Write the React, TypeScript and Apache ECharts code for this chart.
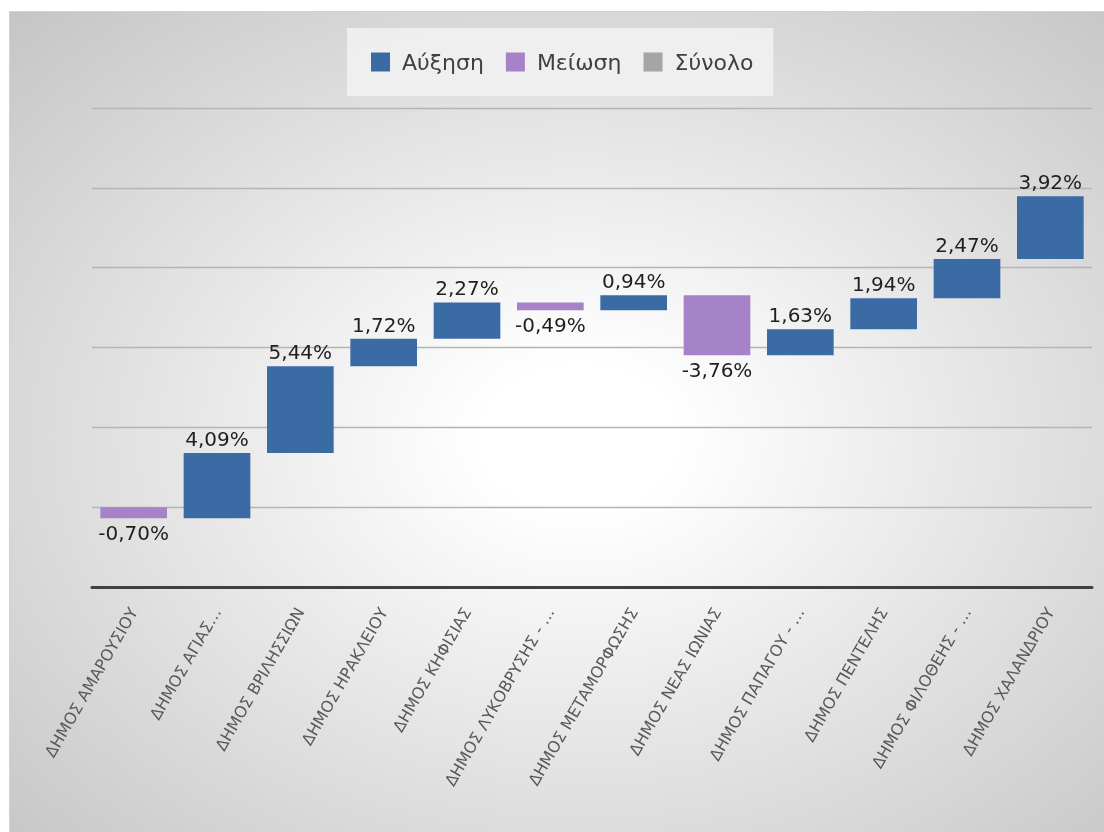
import React, { useEffect, useRef } from "react";
import * as echarts from "echarts";

const categories = [
  "ΔΗΜΟΣ ΑΜΑΡΟΥΣΙΟΥ",
  "ΔΗΜΟΣ ΑΓΙΑΣ…",
  "ΔΗΜΟΣ ΒΡΙΛΗΣΣΙΩΝ",
  "ΔΗΜΟΣ ΗΡΑΚΛΕΙΟΥ",
  "ΔΗΜΟΣ ΚΗΦΙΣΙΑΣ",
  "ΔΗΜΟΣ ΛΥΚΟΒΡΥΣΗΣ - …",
  "ΔΗΜΟΣ ΜΕΤΑΜΟΡΦΩΣΗΣ",
  "ΔΗΜΟΣ ΝΕΑΣ ΙΩΝΙΑΣ",
  "ΔΗΜΟΣ ΠΑΠΑΓΟΥ - …",
  "ΔΗΜΟΣ ΠΕΝΤΕΛΗΣ",
  "ΔΗΜΟΣ ΦΙΛΟΘΕΗΣ - …",
  "ΔΗΜΟΣ ΧΑΛΑΝΔΡΙΟΥ",
];

const changes = [-0.7, 4.09, 5.44, 1.72, 2.27, -0.49, 0.94, -3.76, 1.63, 1.94, 2.47, 3.92];

const legendNames = ["Αύξηση", "Μείωση", "Σύνολο"];
const colors = { up: "#3A6BA5", down: "#A683C9", total: "#A5A5A5" };

const fmt = (v: number) => v.toFixed(2).replace(".", ",") + "%";

export default function App() {
  const ref = useRef<HTMLDivElement>(null);
  useEffect(() => {
    if (!ref.current) return;
    const chart = echarts.init(ref.current, null, { renderer: "svg" });

    const base: number[] = [];
    const ups: any[] = [];
    const downs: any[] = [];
    let running = 0;
    changes.forEach((d) => {
      const next = running + d;
      base.push(Math.min(running, next));
      if (d >= 0) {
        ups.push(d);
        downs.push({ value: 0, label: { show: false } });
      } else {
        ups.push({ value: 0, label: { show: false } });
        downs.push(-d);
      }
      running = next;
    });

    const labelFont = { fontFamily: "DejaVu Sans", fontSize: 20, color: "#1f1f1f" };

    chart.setOption({
      animation: false,
      legend: {
        data: legendNames,
        left: 337,
        top: 16,
        padding: [23, 20, 23, 24],
        backgroundColor: "rgba(242,242,242,0.85)",
        itemWidth: 19,
        itemHeight: 19,
        itemGap: 22,
        icon: "rect",
        textStyle: {
          fontFamily: "DejaVu Sans",
          fontSize: 22,
          color: "#404040",
          padding: [0, 0, 0, 7],
        },
      },
      grid: { left: 82, right: 12, top: 96, bottom: 245, containLabel: false },
      xAxis: {
        type: "category",
        data: categories,
        axisLine: { show: true, onZero: false, lineStyle: { color: "#404040", width: 3 } },
        axisTick: { show: false },
        axisLabel: {
          interval: 0,
          rotate: 60,
          margin: 22,
          fontFamily: "DejaVu Sans",
          fontSize: 16,
          color: "#595959",
        },
      },
      yAxis: {
        type: "value",
        min: -5,
        max: 25,
        interval: 5,
        axisLabel: { show: false },
        axisLine: { show: false },
        axisTick: { show: false },
        splitLine: { lineStyle: { color: "#b5b5b5", width: 1.3 } },
      },
      series: [
        {
          name: "base",
          type: "bar",
          stack: "w",
          stackStrategy: "all",
          barWidth: "80%",
          itemStyle: { color: "transparent" },
          emphasis: { disabled: true },
          silent: true,
          data: base,
        },
        {
          name: legendNames[0],
          type: "bar",
          stack: "w",
          stackStrategy: "all",
          barWidth: "80%",
          itemStyle: { color: colors.up },
          label: {
            show: true,
            position: "top",
            distance: 4,
            ...labelFont,
            formatter: (p: any) => fmt(changes[p.dataIndex]),
          },
          data: ups,
        },
        {
          name: legendNames[1],
          type: "bar",
          stack: "w",
          stackStrategy: "all",
          barWidth: "80%",
          itemStyle: { color: colors.down },
          label: {
            show: true,
            position: "bottom",
            distance: 5,
            ...labelFont,
            formatter: (p: any) => fmt(changes[p.dataIndex]),
          },
          data: downs,
        },
        {
          name: legendNames[2],
          type: "bar",
          stack: "w",
          stackStrategy: "all",
          barWidth: "80%",
          itemStyle: { color: colors.total },
          data: [],
        },
      ],
    });
    return () => chart.dispose();
  }, []);

  return (
    <div
      style={{
        position: "fixed",
        left: 9,
        top: 11,
        width: 1095,
        height: 821,
        borderTop: "1px solid #d2d2d2",
        borderLeft: "1px solid #d2d2d2",
        boxSizing: "border-box",
        background:
          "radial-gradient(farthest-corner at 52% 52%, #ffffff 0%, #ffffff 12%, #c5c5c5 100%)",
      }}
    >
      <div ref={ref} style={{ width: "100%", height: "100%" }} />
    </div>
  );
}
